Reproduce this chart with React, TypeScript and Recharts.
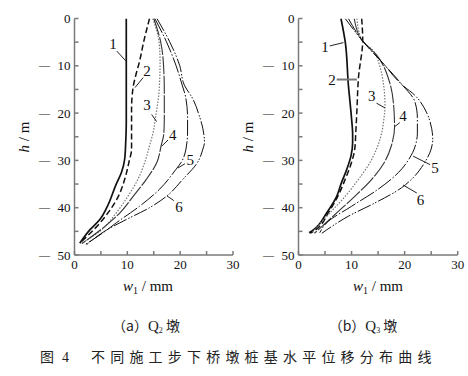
import React from 'react';
import { LineChart, Line, XAxis, YAxis, ReferenceLine, ReferenceDot } from 'recharts';

type P = { w: number; h: number };
const pts = (a: number[][]): P[] => a.map(([w, h]) => ({ w, h }));

// Panel (a) Q2 pier: horizontal displacement w1 (mm) vs depth h (m)
const a1 = pts([[9.8,0],[9.8,-12],[9.8,-22],[9.7,-26],[9.5,-29.7],[8.9,-32.5],[7.9,-35],[6.1,-40],[4.8,-42.5],[2.9,-44.7],[1.0,-47.5]]);
const a2 = pts([[14.2,0],[13.1,-4.9],[12.3,-9.1],[11.6,-12],[11.1,-14.5],[10.8,-19.1],[10.8,-24],[10.8,-27.6],[10.3,-30.4],[9.5,-34],[8.3,-37.6],[6.4,-41],[4.2,-44],[1.0,-47.5]]);
const a3 = pts([[14.8,0],[16.0,-4.9],[16.2,-9.1],[16.0,-15.5],[15.3,-21.2],[14.9,-24],[14.2,-26.9],[13.3,-30.4],[12.0,-34],[10.1,-37.6],[7.9,-41.1],[5.1,-44.7],[1.2,-47.6]]);
const a4 = pts([[15.0,0],[16.3,-4.9],[16.8,-9],[17.0,-15.5],[17.0,-21],[16.9,-24.4],[16.4,-26.9],[15.6,-30.4],[13.6,-34],[11.1,-37.6],[8.6,-41.1],[5.7,-44],[1.4,-47.6]]);
const a5 = pts([[15.2,0],[17.4,-4.9],[19.2,-9.9],[20.2,-13.4],[21.1,-17],[21.4,-21],[21.4,-24],[21.1,-27.6],[20.2,-30.4],[19.2,-31.9],[16.1,-36.1],[12.3,-39.7],[7.9,-43.2],[5.4,-45.3],[2.0,-47.8]]);
const a6 = pts([[15.6,0],[18.0,-4.9],[19.9,-9.9],[20.8,-14.1],[22.4,-17],[23.6,-20.5],[24.3,-23.3],[24.6,-26.2],[24.3,-27.6],[23.3,-30.4],[20.5,-34],[17.4,-37.6],[14.2,-40],[9.8,-42.5],[6.1,-44.7],[2.3,-47.8]]);

// Panel (b) Q3 pier
const b1 = pts([[8.0,0],[8.8,-4.9],[9.4,-14.1],[10.0,-21.2],[10.2,-24.4],[10.2,-26.2],[9.9,-29],[9.1,-31.9],[8.1,-34.7],[7.2,-37.6],[5.3,-41.1],[2.8,-44.7],[2.0,-45.3]]);
const b2 = pts([[11.9,0],[12.1,-4.5],[11.3,-12.5],[11.0,-19.5],[10.8,-24],[10.6,-27.6],[10.0,-30.4],[8.8,-34],[7.4,-37.6],[5.6,-41.1],[3.2,-44.7],[2.2,-45.4]]);
const b3 = pts([[11.0,0],[11.9,-4.5],[14.2,-7],[15.3,-10],[15.9,-13],[16.3,-18.4],[16.0,-22],[15.8,-23.5],[14.7,-27.6],[13.5,-30.4],[11.3,-34],[8.8,-37.6],[5.9,-41.1],[3.4,-44.2],[2.5,-45.4]]);
const b4 = pts([[10.5,0],[11.9,-4.5],[14.7,-7.7],[17.2,-13.6],[18.0,-19.5],[18.1,-23],[17.5,-26.9],[16.2,-30.4],[13.8,-34],[10.6,-37.6],[7.2,-41.1],[4.4,-44],[3.0,-45.4]]);
const b5 = pts([[9.4,0],[11.9,-4.5],[15.8,-9.3],[19.6,-14.1],[21.9,-17.5],[22.4,-21],[22.4,-24.4],[22.3,-25.5],[21.8,-27.6],[21.2,-29],[18.8,-32.6],[15.0,-36.1],[10.0,-39.7],[5.3,-43.2],[4.0,-45.3]]);
const b6 = pts([[8.8,0],[11.9,-4.5],[15.8,-9.3],[19.6,-14.1],[21.9,-16.2],[24.1,-19.8],[25.1,-23.3],[25.3,-25.5],[25.0,-27.6],[23.8,-30.4],[21.3,-34],[19.4,-35.8],[14.4,-39],[9.4,-41.8],[5.3,-44.7],[4.4,-45.4]]);

// Curve labels: number, text position (w,h), leader from (w,h) to (w,h)
type Lab = { n: string; tw: number; th: number; x1: number; y1: number; x2: number; y2: number };
const labelsA: Lab[] = [
  { n: '1', tw: 7.3, th: -5.4, x1: 8.0, y1: -6.9, x2: 9.75, y2: -9.0 },
  { n: '2', tw: 13.7, th: -11.1, x1: 13.0, y1: -12.5, x2: 11.45, y2: -14.6 },
  { n: '3', tw: 13.7, th: -18.2, x1: 14.6, y1: -20.3, x2: 15.55, y2: -21.8 },
  { n: '4', tw: 18.6, th: -24.6, x1: 17.7, y1: -25.7, x2: 16.5, y2: -27.0 },
  { n: '5', tw: 21.9, th: -30.0, x1: 20.9, y1: -30.7, x2: 19.6, y2: -31.6 },
  { n: '6', tw: 19.8, th: -39.8, x1: 18.8, y1: -38.5, x2: 17.5, y2: -37.5 },
];
const labelsB: Lab[] = [
  { n: '1', tw: 5.0, th: -6.1, x1: 5.9, y1: -5.8, x2: 8.45, y2: -5.1 },
  { n: '2', tw: 6.3, th: -12.9, x1: 7.2, y1: -12.9, x2: 11.0, y2: -12.9 },
  { n: '3', tw: 13.8, th: -16.4, x1: 14.7, y1: -17.9, x2: 16.3, y2: -18.9 },
  { n: '4', tw: 19.7, th: -20.7, x1: 19.1, y1: -22.0, x2: 18.2, y2: -22.8 },
  { n: '5', tw: 25.7, th: -31.6, x1: 24.8, y1: -30.9, x2: 21.6, y2: -29.1 },
  { n: '6', tw: 23.0, th: -38.4, x1: 22.3, y1: -36.9, x2: 19.7, y2: -35.2 },
];

const xTicks = [0, 5, 10, 15, 20, 25, 30];
const yTicks = [0, -5, -10, -15, -20, -25, -30, -35, -40, -45, -50];

const styles = [
  { stroke: '#111', strokeWidth: 1.7, dash: undefined as string | undefined },
  { stroke: '#111', strokeWidth: 1.5, dash: '6 3' },
  { stroke: '#777', strokeWidth: 1.2, dash: '1.5 1.5' },
  { stroke: '#333', strokeWidth: 1.1, dash: '18 1.5' },
  { stroke: '#111', strokeWidth: 1, dash: '16 2 1.5 2' },
  { stroke: '#111', strokeWidth: 1, dash: '14 2 1.5 1.5 1.5 2' },
];

const SERIF = '"Liberation Serif", "DejaVu Serif", serif';
const AXIS = '#7a7a7a';

const fmtX = (v: number) => (v % 10 === 0 ? String(v) : '');

const YTick = (p: any) => {
  const v = p.payload.value as number;
  if (v % 10 !== 0) return null;
  return (
    <g>
      <text x={p.x} y={p.y} dy={4.5} textAnchor="end" fontSize={13} fontFamily={SERIF} fill="#111">{String(-v)}</text>
      {v !== 0 && (
        <text x={p.x - 31.5} y={p.y} dy={3.5} textAnchor="start" fontSize={11} fontFamily={SERIF} fill="#111">—</text>
      )}
    </g>
  );
};

function Panel({ series, labels, width, yWidth, right, grey2 }: { series: P[][]; labels: Lab[]; width: number; yWidth: number; right: number; grey2: boolean }) {
  return (
    <LineChart layout="vertical" width={width} height={300} margin={{ top: 18.5, right, bottom: 15, left: 0 }}>
      <XAxis type="number" dataKey="w" domain={[0, 30]} ticks={xTicks} interval={0} tickFormatter={fmtX}
        tickSize={-4} tickMargin={9} height={30} stroke={AXIS} strokeWidth={1.5} allowDataOverflow
        tick={{ fill: '#111', fontSize: 13, fontFamily: SERIF }} />
      <YAxis type="number" dataKey="h" domain={[-50, 0]} ticks={yTicks} interval={0} reversed
        tickSize={-4} tickMargin={8} width={yWidth} stroke={AXIS} strokeWidth={1.5} allowDataOverflow
        tick={<YTick />} />
      {series.map((d, i) => (
        <Line key={i} data={d} dataKey="w" type="monotone" dot={false} activeDot={false}
          stroke={styles[i].stroke} strokeWidth={styles[i].strokeWidth} strokeDasharray={styles[i].dash}
          isAnimationActive={false} />
      ))}
      {labels.map((l) => (
        <ReferenceLine key={'l' + l.n} segment={[{ x: l.x1, y: l.y1 }, { x: l.x2, y: l.y2 }]}
          stroke={l.n === '2' && grey2 ? '#777' : '#222'} strokeWidth={l.n === '2' && grey2 ? 2 : 1} />
      ))}
      {labels.map((l) => (
        <ReferenceDot key={'t' + l.n} x={l.tw} y={l.th} r={1}
          shape={(p: any) => (
            <text x={p.cx} y={p.cy} dy={5} textAnchor="middle" fontSize={15} fontFamily={SERIF} fill="#111">{l.n}</text>
          )} />
      ))}
    </LineChart>
  );
}

export default function App() {
  return (
    <div style={{ position: 'absolute', left: 0, top: 0, width: 468, height: 376, background: '#fff' }}>
      <div style={{ position: 'absolute', left: 0, top: 0 }}>
        <Panel series={[a1, a2, a3, a4, a5, a6]} labels={labelsA} width={240} yWidth={74.5} right={7} grey2={false} />
      </div>
      <div style={{ position: 'absolute', left: 230, top: 0 }}>
        <Panel series={[b1, b2, b3, b4, b5, b6]} labels={labelsB} width={238} yWidth={68.5} right={10.3} grey2={true} />
      </div>
      <svg width={468} height={376} style={{ position: 'absolute', left: 0, top: 0, pointerEvents: 'none' }}>
        <g fontFamily={SERIF} fill="#111" fontSize={15}>
          <text transform="translate(29,137) rotate(-90)" textAnchor="middle"><tspan fontStyle="italic">h</tspan> / m</text>
          <text transform="translate(253,137) rotate(-90)" textAnchor="middle"><tspan fontStyle="italic">h</tspan> / m</text>
          <text x={148} y={291} textAnchor="middle"><tspan fontStyle="italic">w</tspan><tspan fontSize={10} dy={3}>1</tspan><tspan dy={-3}> / mm</tspan></text>
          <text x={378} y={291} textAnchor="middle"><tspan fontStyle="italic">w</tspan><tspan fontSize={10} dy={3}>1</tspan><tspan dy={-3}> / mm</tspan></text>
        </g>
        <g fontFamily={'"Noto Sans CJK SC", ' + SERIF} fill="#222" fontSize={14}>
          <text x={146} y={331} textAnchor="middle">（a）<tspan fontFamily={SERIF} fontSize={15}>Q</tspan><tspan fontFamily={SERIF} fontSize={8} dy={2}>2</tspan><tspan dy={-2}> 墩</tspan></text>
          <text x={363} y={331} textAnchor="middle">（b）<tspan fontFamily={SERIF} fontSize={15}>Q</tspan><tspan fontFamily={SERIF} fontSize={8} dy={2}>3</tspan><tspan dy={-2}> 墩</tspan></text>
          <text x={40} y={362} fontSize={14}>图</text>
          <text x={62} y={362} fontSize={14} fontFamily={SERIF}>4</text>
          <text x={91} y={362} fontSize={14} letterSpacing={5.2}>不同施工步下桥墩桩基水平位移分布曲线</text>
        </g>
      </svg>
    </div>
  );
}
